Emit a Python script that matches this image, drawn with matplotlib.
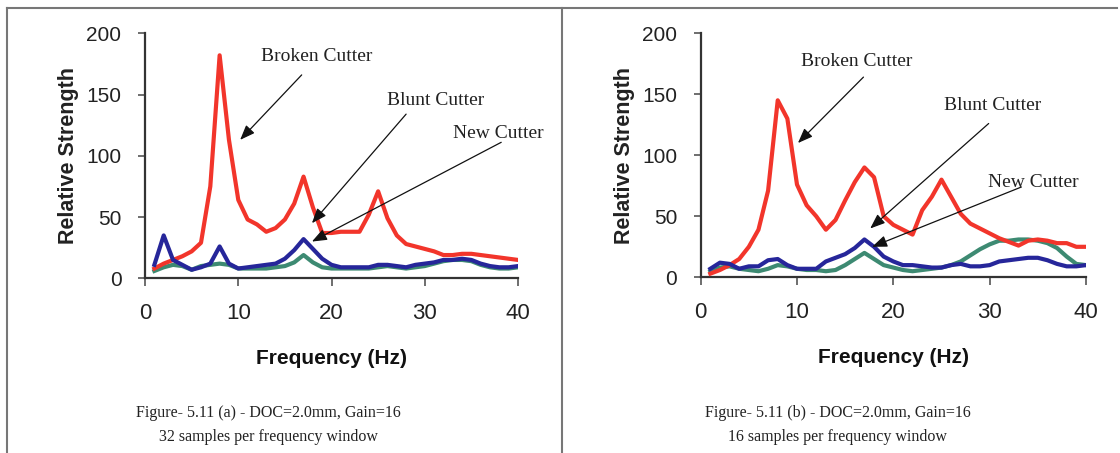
import numpy as np
import matplotlib.pyplot as plt
from matplotlib.lines import Line2D

freq = np.arange(1, 41)

# panel (a): 32 samples per frequency window
broken_a = [8, 12, 15, 18, 22, 29, 75, 182, 113, 64, 48, 44, 38, 41, 48, 61, 83, 58, 37, 37,
            38, 38, 38, 52, 71, 49, 35, 28, 26, 24, 22, 19, 19, 20, 20, 19, 18, 17, 16, 15]
blunt_a = [11, 35, 15, 11, 7, 9, 12, 26, 12, 8, 9, 10, 11, 12, 16, 23, 32, 24, 16, 11,
           9, 9, 9, 9, 11, 11, 10, 9, 11, 12, 13, 15, 15, 16, 15, 12, 10, 9, 9, 10]
new_a = [6, 9, 11, 10, 7, 10, 11, 12, 11, 8, 8, 8, 8, 9, 10, 13, 19, 13, 9, 8,
         8, 8, 8, 8, 9, 10, 9, 8, 9, 10, 12, 14, 15, 15, 14, 11, 9, 8, 8, 9]

# panel (b): 16 samples per frequency window
broken_b = [3, 6, 10, 15, 25, 39, 71, 145, 130, 76, 59, 50, 39, 47, 63, 78, 90, 82, 50, 43,
            39, 35, 55, 66, 80, 66, 52, 44, 40, 36, 32, 29, 26, 30, 31, 30, 28, 28, 25, 25]
blunt_b = [7, 12, 11, 7, 9, 9, 14, 15, 10, 7, 7, 7, 13, 16, 19, 24, 31, 25, 17, 13,
           10, 10, 9, 8, 8, 10, 11, 9, 9, 10, 13, 14, 15, 16, 16, 14, 11, 9, 9, 10]
new_b = [5, 8, 9, 7, 6, 5, 7, 10, 9, 7, 6, 6, 5, 6, 10, 15, 20, 15, 10, 8,
         6, 5, 6, 7, 8, 10, 13, 18, 23, 27, 30, 30, 31, 31, 30, 28, 24, 17, 11, 10]

captions = [("Figure- 5.11 (a) - DOC=2.0mm, Gain=16", "32 samples per frequency window"),
            ("Figure- 5.11 (b) - DOC=2.0mm, Gain=16", "16 samples per frequency window")]

# annotation text position, arrow tail, arrow head (data coords)
notes_a = [("Broken Cutter", (18.4, 181), (16.8, 166), (10.2, 113)),
           ("Blunt Cutter", (31.2, 145), (28.0, 134), (17.9, 45)),
           ("New Cutter", (37.9, 118), (38.2, 111), (17.9, 30))]
notes_b = [("Broken Cutter", (16.2, 177), (16.9, 164), (10.1, 110)),
           ("Blunt Cutter", (30.3, 141), (29.9, 126), (17.6, 40)),
           ("New Cutter", (34.5, 78), (33.3, 74), (17.8, 25))]

RED = '#f2352b'
BLUE = '#26269a'
GREEN = '#3d8a72'

plt.rcParams['font.family'] = ['Liberation Sans', 'DejaVu Sans']

fig = plt.figure(figsize=(11.2, 4.53), dpi=100)
ax_a = fig.add_axes([0.1295, 0.3856, 0.333, 0.541])
ax_b = fig.add_axes([0.6256, 0.3878, 0.344, 0.539])

panels = [(ax_a, broken_a, blunt_a, new_a, notes_a),
          (ax_b, broken_b, blunt_b, new_b, notes_b)]

for ax, broken, blunt, new, notes in panels:
    ax.plot(freq, new, color=GREEN, lw=3, zorder=2)
    ax.plot(freq, broken, color=RED, lw=3, zorder=3)
    ax.plot(freq, blunt, color=BLUE, lw=3, zorder=4)
    ax.set_xlim(0, 40)
    ax.set_ylim(0, 200)
    ax.set_xticks([0, 10, 20, 30, 40])
    ax.set_yticks([0, 50, 100, 150, 200])
    for s in ['top', 'right']:
        ax.spines[s].set_visible(False)
    for s in ['left', 'bottom']:
        ax.spines[s].set_color('#333333')
        ax.spines[s].set_linewidth(1.6)
    ax.tick_params(axis='y', length=5, width=1.2, color='#555555', pad=12,
                   labelsize=15, labelcolor='#222222')
    ax.tick_params(axis='x', length=6, width=1.2, color='#555555', pad=12,
                   labelsize=16, labelcolor='#222222')
    ax.set_ylabel('Relative Strength', fontsize=15.5, fontweight='bold', color='#222222', labelpad=5)
    ax.set_xlabel('Frequency (Hz)', fontsize=15, fontweight='bold', color='#111111',
                  labelpad=18)
    for text, tpos, tail, head in notes:
        ax.text(tpos[0], tpos[1], text, ha='center', va='center', fontsize=14,
                family='Liberation Serif', color='#222222', zorder=6)
        ax.annotate('', xy=head, xytext=tail,
                    arrowprops=dict(arrowstyle='-|>,head_length=0.9,head_width=0.35',
                                    color='#111111', lw=0.9, shrinkA=0, shrinkB=0),
                    zorder=5)

for cx, (l1, l2) in zip([0.240, 0.748], captions):
    fig.text(cx, 0.088, l1, ha='center', va='center', fontsize=11.5,
             family='Liberation Serif', color='#222222')
    fig.text(cx, 0.035, l2, ha='center', va='center', fontsize=11.5,
             family='Liberation Serif', color='#222222')

# frame lines around the two figures
frame = dict(color='#777777', lw=1.5, transform=fig.transFigure)
fig.add_artist(Line2D([0.006, 0.997], [0.982, 0.982], **frame))
fig.add_artist(Line2D([0.006, 0.006], [0.0, 0.982], **frame))
fig.add_artist(Line2D([0.502, 0.502], [0.0, 0.982], **frame))

fig.savefig('out.png', dpi=100)
